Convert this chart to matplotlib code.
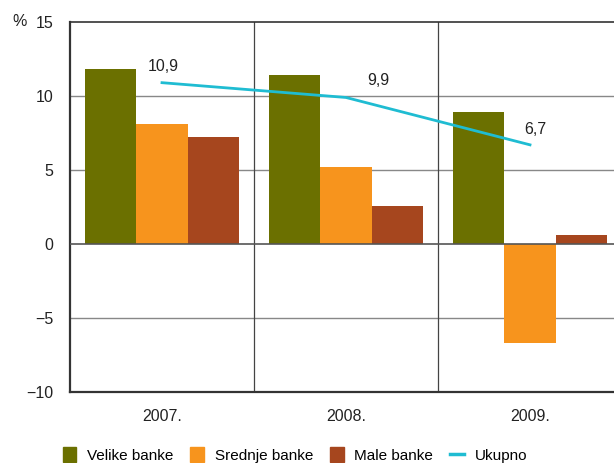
import matplotlib.pyplot as plt
import numpy as np
from matplotlib.patches import Patch
from matplotlib.lines import Line2D

plt.rcParams['font.family'] = ['Liberation Sans', 'DejaVu Sans']

years = ['2007.', '2008.', '2009.']
velike = [11.8, 11.4, 8.9]
srednje = [8.1, 5.2, -6.7]
male = [7.2, 2.6, 0.6]
ukupno = [10.9, 9.9, 6.7]
ukupno_labels = ['10,9', '9,9', '6,7']

c_vel = '#6b7000'
c_sre = '#f7941d'
c_mal = '#a6461e'
c_uk = '#1fbcd2'

fig = plt.figure(figsize=(6.14, 4.63), dpi=100)
ax = fig.add_axes([70/614, 1 - 392/463, 552/614, 370/463])

x = np.arange(len(years))
w = 0.28
ax.bar(x - w, velike, w, color=c_vel, zorder=3)
ax.bar(x, srednje, w, color=c_sre, zorder=3)
ax.bar(x + w, male, w, color=c_mal, zorder=3)
ax.plot(x, ukupno, color=c_uk, lw=2, zorder=4)

offsets = [(1, 12), (23, 12), (4, 11)]
for xi, yi, lab, off in zip(x, ukupno, ukupno_labels, offsets):
    ax.annotate(lab, (xi, yi), xytext=off, textcoords='offset points',
                ha='center', va='center', fontsize=11.5, color='#222222')

ax.set_xlim(-0.5, 2.5)
ax.set_ylim(-10, 15)
ax.set_yticks([-10, -5, 0, 5, 10, 15])
ax.set_yticklabels(['\u221210', '\u22125', '0', '5', '10', '15'])
ax.set_xticks(x)
ax.set_xticklabels(years)
ax.tick_params(length=0, labelsize=11.5, colors='#222222')
ax.tick_params(axis='x', pad=12)
ax.tick_params(axis='y', pad=12)

for yv in [-5, 5, 10]:
    ax.axhline(yv, color='#888888', lw=1, zorder=1)
ax.axhline(0, color='#555555', lw=1.2, zorder=5)
for xv in [0.5, 1.5]:
    ax.axvline(xv, color='#444444', lw=0.9, zorder=1)

for s in ['left', 'bottom']:
    ax.spines[s].set_linewidth(1.6)
    ax.spines[s].set_color('#333333')
ax.spines['top'].set_linewidth(1.2)
ax.spines['top'].set_color('#333333')
ax.spines['right'].set_visible(False)

fig.text(12/614, 1 - 22/463, '%', fontsize=11.5, color='#222222', va='center')

handles = [Patch(color=c_vel), Patch(color=c_sre), Patch(color=c_mal),
           Line2D([], [], color=c_uk, lw=2.5)]
labels = ['Velike banke', 'Srednje banke', 'Male banke', 'Ukupno']
fig.legend(handles, labels, loc='center', ncol=4, frameon=False,
           bbox_to_anchor=(0.48, 1 - 455/463), fontsize=11, handlelength=0.9,
           handleheight=1.1, columnspacing=1.1, handletextpad=0.7)

fig.savefig('out.png', dpi=100)
